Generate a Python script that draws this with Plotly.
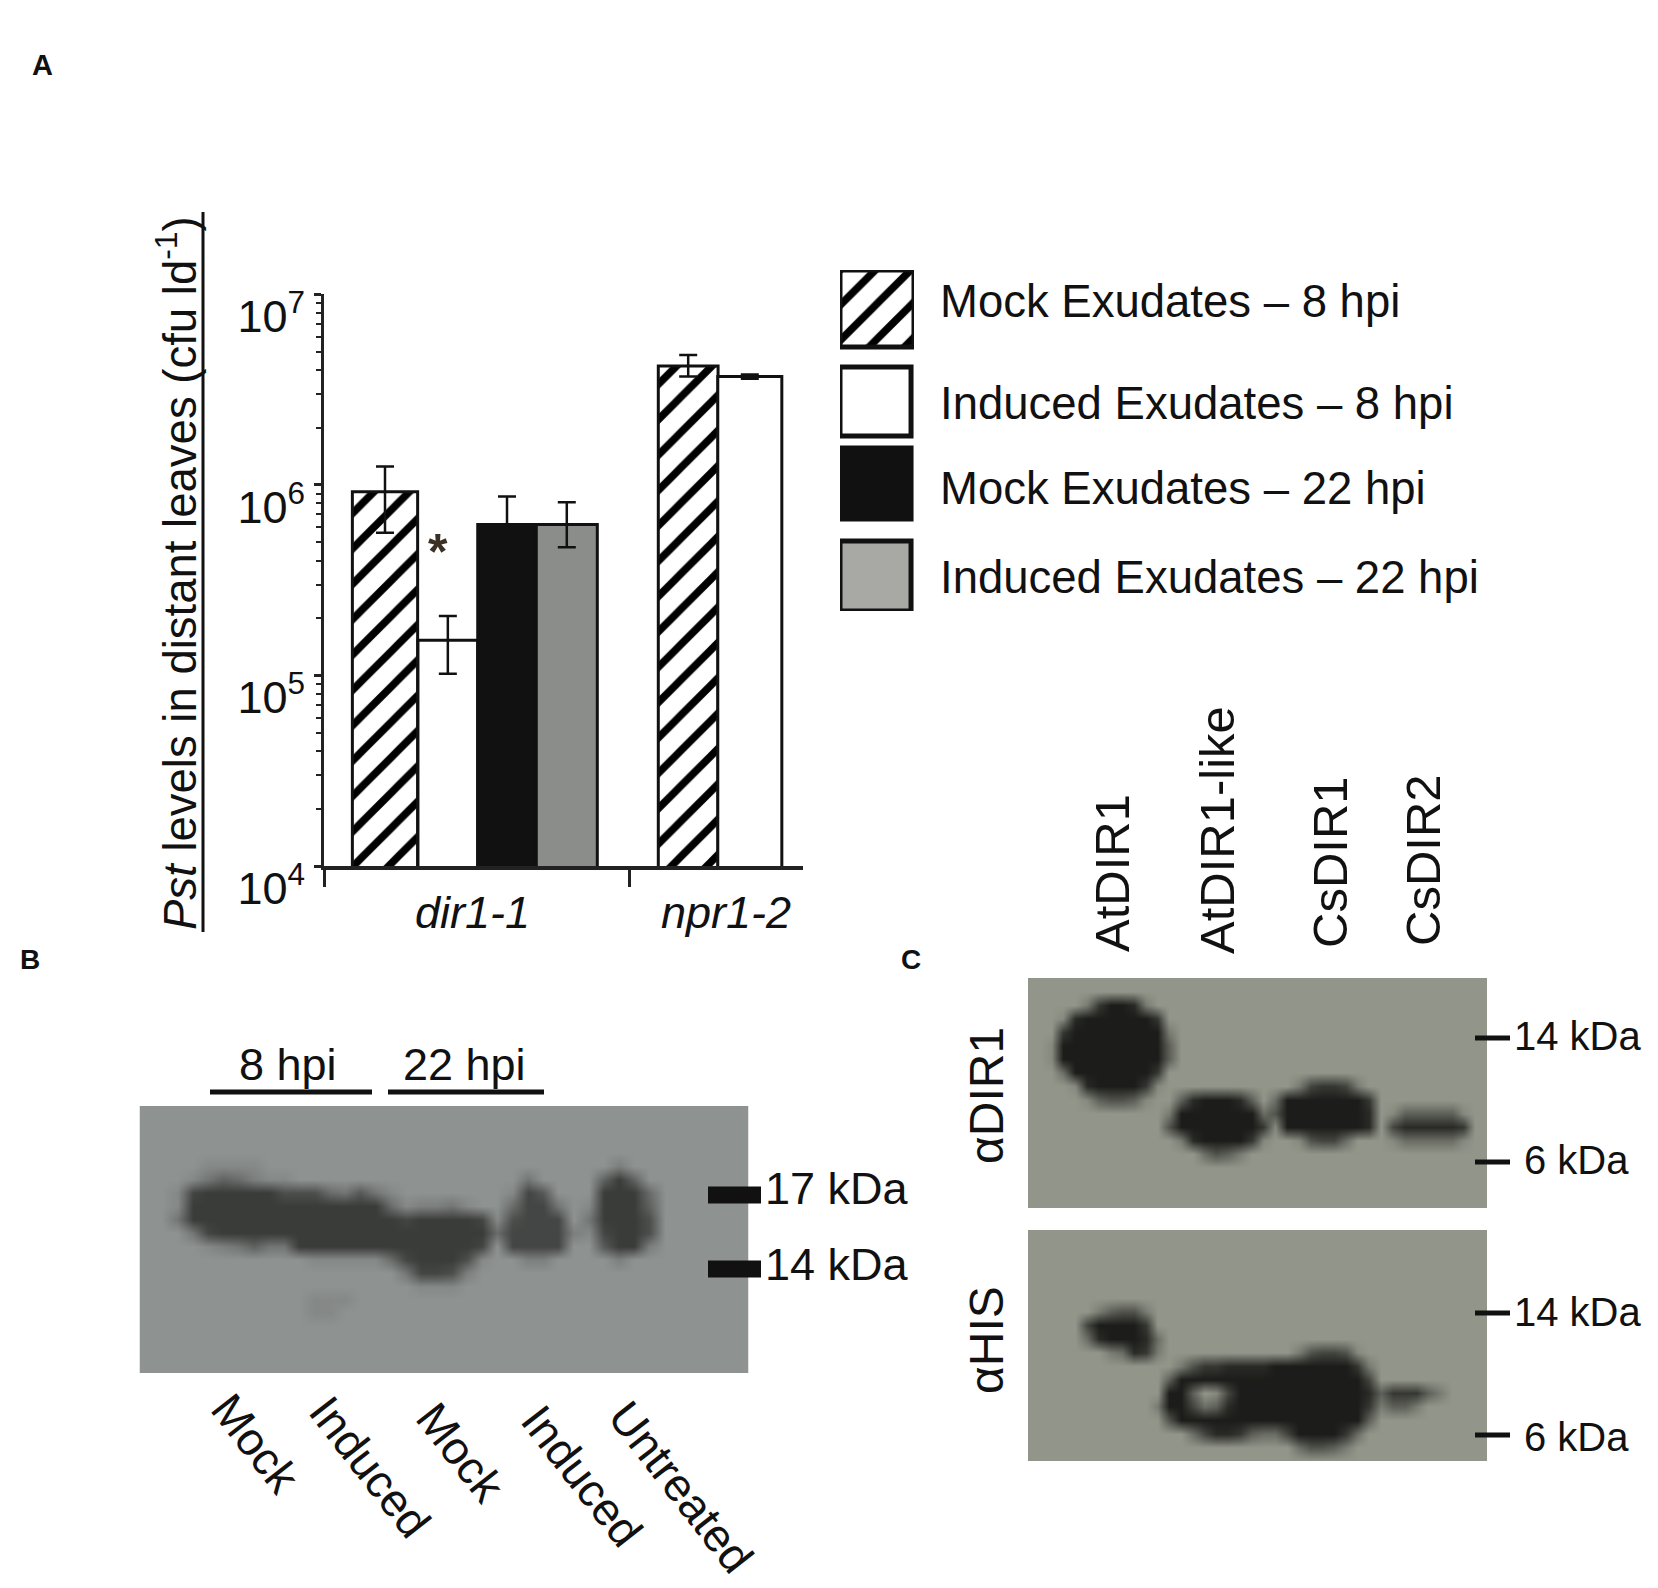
import plotly.graph_objects as go

W = 1658
H = 1588
FONT = "Liberation Sans"

# panel A values
slots = [0, 1.03, 2.0, 2.98, 4.97, 5.98]
genotypes = ["dir1-1", "npr1-2"]
mock_8 = [9.2e5, 4.2e6]
mock_8_hi = [1.25e6, 4.8e6]
mock_8_lo = [5.6e5, 3.7e6]
induced_8 = [1.53e5, 3.7e6]
induced_8_hi = [2.05e5, 3.8e6]
induced_8_lo = [1.02e5, 3.6e6]
mock_22 = [6.2e5]
mock_22_hi = [8.7e5]
induced_22 = [6.2e5]
induced_22_hi = [8.1e5]
induced_22_lo = [4.7e5]
legend_names = ["Mock Exudates – 8 hpi", "Induced Exudates – 8 hpi",
                "Mock Exudates – 22 hpi", "Induced Exudates – 22 hpi"]

# blots, darkness read by eye: 0 is the band, 9 is the film
blot_b = [
    "9" * 40,
    "9" * 40,
    "9" * 40,
    "9" * 40,
    "9999" + "8888" + "9" * 23 + "7" + "9" * 8,
    "9998645788" + "9" * 15 + "6" + "9999" + "404" + "9" * 7,
    "9981000002" + "2256368999" + "9999813999" + "0005999999",
    "9980000000" + "0000005877" + "6899511698" + "0004999999",
    "9960000000" + "0000000100" + "0018211196" + "0002999999",
    "9996100000" + "0000000000" + "0005111178" + "1002999999",
    "9999876466" + "0000000000" + "0019111199" + "3007999999",
    "9999999999" + "9888885100" + "0289977999" + "9799999999",
    "9" * 10 + "9999999611" + "27" + "9" * 18,
    "9" * 18 + "888" + "9" * 19,
    "9" * 11 + "888" + "9" * 26,
    "9" * 11 + "88" + "9" * 27,
    "9" * 40,
    "9" * 40,
    "9" * 40,
    "9" * 40,
]
blot_dir1 = [
    "9" * 40,
    "9" * 40,
    "99999" + "720017" + "9" * 29,
    "999" + "81" + "000000" + "2" + "9" * 28,
    "999" + "2" + "00000000" + "7" + "9" * 27,
    "998" + "000000000" + "5" + "9" * 27,
    "998" + "000000000" + "5" + "9" * 27,
    "999" + "6" + "0000000" + "2" + "9" * 28,
    "9999" + "81000028" + "9" * 11 + "732237" + "9" * 11,
    "99999" + "854458" + "99" + "5100015" + "9" + "6" + "0000000" + "2" + "9" * 10,
    "9" * 12 + "7" + "0000000" + "64" + "0000000" + "19" + "8555558" + "99",
    "9" * 12 + "4" + "0000000" + "28" + "0000000" + "19" + "3" + "11111" + "2" + "99",
    "9" * 13 + "71" + "0000" + "28" + "99" + "84336" + "999" + "8666668" + "99",
    "9" * 15 + "6457" + "9" * 21,
    "9" * 40,
    "9" * 40,
    "9" * 40,
    "9" * 40,
]
blot_his = [
    "9" * 40,
    "9" * 40,
    "9" * 40,
    "9" * 40,
    "9" * 40,
    "9" * 40,
    "999999" + "75447" + "9" * 29,
    "99999" + "300002" + "9" * 29,
    "99999" + "6100016" + "9" * 28,
    "9" * 7 + "76127" + "9" * 11 + "743348" + "9" * 11,
    "9" * 13 + "74221111" + "0000000" + "27" + "9" * 10,
    "9" * 12 + "5" + "0" * 16 + "3" + "9" * 10,
    "9" * 12 + "005983" + "0" * 11 + "15" + "222" + "57" + "9999",
    "9" * 11 + "7" + "00" + "3651" + "0" * 11 + "2" + "7557" + "9" * 6,
    "9" * 12 + "4" + "0" * 16 + "5" + "9" * 10,
    "9" * 14 + "631125663" + "0000" + "26" + "9" * 11,
    "9" * 23 + "64457" + "9" * 12,
    "9" * 40,
]
lanes_b = ["Mock", "Induced", "Mock", "Induced", "Untreated"]
lanes_c = ["AtDIR1", "AtDIR1-like", "CsDIR1", "CsDIR2"]


def px(x):
    return x / W


def py(y):
    return 1 - y / H


def digits(rows):
    return [[int(c) for c in r] for r in rows]


def label(text, x, y, size=44, angle=0, anchor="center", bold=False, color="#111"):
    fig.add_annotation(text=text, x=px(x), y=py(y), xref="paper", yref="paper", showarrow=False,
                       textangle=angle, xanchor=anchor, yanchor="middle",
                       font=dict(family=FONT, size=size, color=color,
                                 weight="bold" if bold else "normal"))


def rule(x0, x1, y0, y1=None, color="#111", width=5):
    fig.add_shape(type="line", xref="paper", yref="paper", x0=px(x0), x1=px(x1),
                  y0=py(y0), y1=py(y0 if y1 is None else y1), line=dict(color=color, width=width))


fig = go.Figure()

hatch = dict(shape="/", size=25, solidity=0.3, fgcolor="#000", bgcolor="white", fgopacity=1)
err = dict(color="#111", thickness=2.5, width=9)


def bars(x, y, w, hi, lo, marker, line_w=3):
    fig.add_trace(go.Bar(x=x, y=y, width=w, marker=dict(line=dict(color="#111", width=line_w), **marker),
                         error_y=dict(type="data", symmetric=False,
                                      array=[a - b for a, b in zip(hi, y)],
                                      arrayminus=[b - a for a, b in zip(lo, y)], **err)))


bars([slots[0], slots[4]], mock_8, [1.07, 0.98], mock_8_hi, mock_8_lo, dict(color="white", pattern=hatch))
bars([slots[1], slots[5]], induced_8, [0.98, 1.05], induced_8_hi, induced_8_lo, dict(color="white"))
bars([slots[2]], mock_22, [0.96], mock_22_hi, mock_22, dict(color="#111"))
bars([slots[3]], induced_22, [1.0], induced_22_hi, induced_22_lo, dict(color="#8b8d8a"))

# legend swatches are bars too, so the hatch comes out the same
fig.add_trace(go.Bar(x=[0.5], y=[77], base=[270], width=[1], xaxis="x2", yaxis="y2", cliponaxis=False,
                     marker=dict(color="white", line=dict(color="#111", width=5), pattern=hatch)))
fig.add_trace(go.Bar(x=[0.48, 0.48, 0.48], y=[69, 71, 70], base=[367, 448, 541], width=[0.96, 0.96, 0.96],
                     xaxis="x2", yaxis="y2", cliponaxis=False,
                     marker=dict(color=["white", "#111", "#a8a9a5"], line=dict(color="#111", width=5))))

blots = [(blot_b, "x3", "y3", "#8e9290", "#3a3c3a"),
         (blot_dir1, "x4", "y4", "#92968a", "#1c1c1a"),
         (blot_his, "x5", "y5", "#92968a", "#1c1c1a")]
for rows, xa, ya, film, band in blots:
    fig.add_trace(go.Heatmap(z=digits(rows), xaxis=xa, yaxis=ya, zmin=0, zmax=9, zsmooth="best",
                             showscale=False, hoverinfo="skip",
                             colorscale=[[0, band], [1, film]]))

hidden = dict(visible=False, fixedrange=True)
fig.update_layout(
    width=W, height=H, margin=dict(l=0, r=0, t=0, b=0), paper_bgcolor="white", plot_bgcolor="white",
    showlegend=False, barmode="overlay",
    xaxis=dict(domain=[px(324), px(803)], range=[-1, 6.852], tickmode="array", tickvals=[-1, 4],
               showticklabels=False, ticks="outside", ticklen=17, tickwidth=3, tickcolor="#222",
               showline=True, linecolor="#222", linewidth=4, showgrid=False, zeroline=False, automargin=False),
    yaxis=dict(domain=[py(866), py(294.3)], type="log", range=[4, 7], tickmode="array",
               tickvals=[1e4, 1e5, 1e6, 1e7],
               ticktext=["10<sup>4</sup>", "10<sup>5</sup>", "10<sup>6</sup>", "10<sup>7</sup>"],
               tickfont=dict(family=FONT, size=45, color="#111"), ticks="outside", ticklen=7, tickwidth=3,
               tickcolor="#222", ticklabelshift=22, ticklabelstandoff=0,
               minor=dict(ticks="outside", ticklen=5, tickwidth=2, tickcolor="#222", dtick="D1"),
               showline=True, linecolor="#222", linewidth=3, showgrid=False, zeroline=False, automargin=False),
    xaxis2=dict(domain=[px(840), px(914)], range=[0, 1], anchor="y2", **hidden),
    yaxis2=dict(domain=[py(611), py(270)], range=[611, 270], anchor="x2", **hidden),
    xaxis3=dict(domain=[px(139.5), px(748.5)], range=[-0.5, 39.5], anchor="y3", **hidden),
    yaxis3=dict(domain=[py(1373), py(1106)], range=[19.5, -0.5], anchor="x3", **hidden),
    xaxis4=dict(domain=[px(1028), px(1487)], range=[0, 39], anchor="y4", **hidden),
    yaxis4=dict(domain=[py(1208), py(978)], range=[17, 0], anchor="x4", **hidden),
    xaxis5=dict(domain=[px(1028), px(1487)], range=[0, 39], anchor="y5", **hidden),
    yaxis5=dict(domain=[py(1461), py(1230)], range=[17, 0], anchor="x5", **hidden),
)

# panel letters
label("A", 42, 65, 29, bold=True)
label("B", 30, 959, 28, bold=True)
label("C", 911, 959, 28, bold=True)

# panel A texts
label("<i>Pst</i> levels in distant leaves (cfu ld<sup>-1</sup>)", 177, 573, 45.5, angle=-90)
rule(203, 203, 212, 932, width=3)
label("*", 438, 552, 50, bold=True, color="#3a3026")
for name, cx in zip(genotypes, [472, 726]):
    label("<i>" + name + "</i>", cx, 913, 45)
for name, cy in zip(legend_names, [302, 403, 488, 577]):
    label(name, 938, cy, 45.5, anchor="left")

# panel B texts and size marks
label("8 hpi", 288, 1064, 45)
label("22 hpi", 464, 1064, 45)
rule(210, 372, 1092, width=5)
rule(388, 544, 1092, width=5)
for name, cx, cy in zip(lanes_b, [256, 370, 461, 582, 681], [1444, 1467, 1453, 1476, 1487]):
    label(name, cx, cy, 46, angle=52)
for name, cy, cy_text in zip(["17 kDa", "14 kDa"], [1195, 1269], [1188, 1264]):
    rule(708, 761, cy, width=17)
    label(name, 763, cy_text, 45, anchor="left")

# panel C texts and size marks
for name, cx, cy in zip(lanes_c, [1112, 1217, 1330, 1423], [873, 830, 862, 860]):
    label(name, cx, cy, 49, angle=-90)
label("αDIR1", 986, 1096, 48, angle=-90)
label("αHIS", 986, 1340, 48, angle=-90)
for name, x_text, cy, cy_text in zip(["14 kDa", "6 kDa", "14 kDa", "6 kDa"], [1512, 1522, 1512, 1522],
                                     [1038, 1162, 1313, 1435], [1036, 1160, 1312, 1437]):
    rule(1475, 1510, cy, width=5)
    label(name, x_text, cy_text, 40, anchor="left")

fig.write_html("out.html", config={"displayModeBar": False},
               post_script="document.body.style.margin='0';document.documentElement.style.overflow='hidden';")
